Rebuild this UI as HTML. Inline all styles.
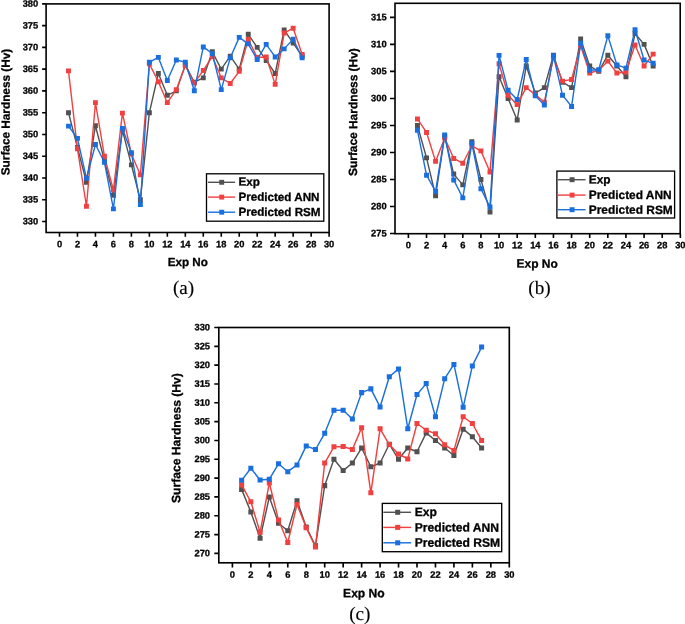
<!DOCTYPE html>
<html lang="en">
<head>
<meta charset="utf-8">
<title>Surface hardness: experimental vs predicted ANN and RSM</title>
<style>
html,body{margin:0;padding:0;background:#fff;}
body{width:685px;height:624px;overflow:hidden;}
svg{display:block;font-family:"Liberation Sans",Arial,Helvetica,sans-serif;fill:#000;text-rendering:geometricPrecision;filter:blur(0.35px);}
svg text{stroke:#000;stroke-width:0.3px;stroke-linejoin:round;}
svg text.cap{stroke-width:0.15px;}
</style>
</head>
<body>
<svg width="685" height="624" viewBox="0 0 685 624">
<rect width="685" height="624" fill="#fff"/>
<g class="chart" id="chart-a">
<path d="M42.1 221.5H46.1M42.1 199.74H46.1M42.1 177.97H46.1M42.1 156.2H46.1M42.1 134.44H46.1M42.1 112.68H46.1M42.1 90.91H46.1M42.1 69.15H46.1M42.1 47.38H46.1M42.1 25.62H46.1M42.1 3.85H46.1M59.5 232.5V236.8M77.47 232.5V236.8M95.45 232.5V236.8M113.42 232.5V236.8M131.4 232.5V236.8M149.37 232.5V236.8M167.34 232.5V236.8M185.32 232.5V236.8M203.29 232.5V236.8M221.27 232.5V236.8M239.24 232.5V236.8M257.21 232.5V236.8M275.19 232.5V236.8M293.16 232.5V236.8M311.14 232.5V236.8M329.11 232.5V236.8" stroke="#000" stroke-width="1.6" fill="none"/>
<polyline points="68.49,112.68 77.47,147.5 86.46,182.32 95.45,125.73 104.44,160.56 113.42,195.38 122.41,130.09 131.4,164.91 140.38,199.74 149.37,112.68 158.36,73.5 167.34,95.26 176.33,90.91 185.32,64.79 194.31,82.2 203.29,77.85 212.28,51.73 221.27,69.15 230.25,56.09 239.24,69.15 248.23,34.32 257.21,47.38 266.2,60.44 275.19,73.5 284.18,29.97 293.16,43.03 302.15,56.09" fill="none" stroke="#515151" stroke-width="1.4" stroke-linejoin="round"/>
<path d="M66.04 110.23h4.9v4.9h-4.9zM75.02 145.05h4.9v4.9h-4.9zM84.01 179.87h4.9v4.9h-4.9zM93 123.28h4.9v4.9h-4.9zM101.98 158.11h4.9v4.9h-4.9zM110.97 192.93h4.9v4.9h-4.9zM119.96 127.64h4.9v4.9h-4.9zM128.95 162.46h4.9v4.9h-4.9zM137.93 197.29h4.9v4.9h-4.9zM146.92 110.23h4.9v4.9h-4.9zM155.91 71.05h4.9v4.9h-4.9zM164.89 92.81h4.9v4.9h-4.9zM173.88 88.46h4.9v4.9h-4.9zM182.87 62.34h4.9v4.9h-4.9zM191.86 79.75h4.9v4.9h-4.9zM200.84 75.4h4.9v4.9h-4.9zM209.83 49.28h4.9v4.9h-4.9zM218.82 66.7h4.9v4.9h-4.9zM227.8 53.64h4.9v4.9h-4.9zM236.79 66.7h4.9v4.9h-4.9zM245.78 31.87h4.9v4.9h-4.9zM254.76 44.93h4.9v4.9h-4.9zM263.75 57.99h4.9v4.9h-4.9zM272.74 71.05h4.9v4.9h-4.9zM281.73 27.52h4.9v4.9h-4.9zM290.71 40.58h4.9v4.9h-4.9zM299.7 53.64h4.9v4.9h-4.9z" fill="#515151"/>
<polyline points="68.49,70.89 77.47,148.8 86.46,206.26 95.45,102.66 104.44,156.2 113.42,190.16 122.41,113.11 131.4,154.03 140.38,174.92 149.37,63.92 158.36,81.77 167.34,102.66 176.33,89.6 185.32,65.66 194.31,83.07 203.29,70.45 212.28,56.52 221.27,77.85 230.25,83.51 239.24,71.32 248.23,39.54 257.21,57.39 266.2,56.96 275.19,84.38 284.18,33.02 293.16,28.23 302.15,54.34" fill="none" stroke="#F14040" stroke-width="1.4" stroke-linejoin="round"/>
<path d="M66.04 68.44h4.9v4.9h-4.9zM75.02 146.35h4.9v4.9h-4.9zM84.01 203.81h4.9v4.9h-4.9zM93 100.21h4.9v4.9h-4.9zM101.98 153.75h4.9v4.9h-4.9zM110.97 187.71h4.9v4.9h-4.9zM119.96 110.66h4.9v4.9h-4.9zM128.95 151.58h4.9v4.9h-4.9zM137.93 172.47h4.9v4.9h-4.9zM146.92 61.47h4.9v4.9h-4.9zM155.91 79.32h4.9v4.9h-4.9zM164.89 100.21h4.9v4.9h-4.9zM173.88 87.15h4.9v4.9h-4.9zM182.87 63.21h4.9v4.9h-4.9zM191.86 80.62h4.9v4.9h-4.9zM200.84 68h4.9v4.9h-4.9zM209.83 54.07h4.9v4.9h-4.9zM218.82 75.4h4.9v4.9h-4.9zM227.8 81.06h4.9v4.9h-4.9zM236.79 68.87h4.9v4.9h-4.9zM245.78 37.09h4.9v4.9h-4.9zM254.76 54.94h4.9v4.9h-4.9zM263.75 54.51h4.9v4.9h-4.9zM272.74 81.93h4.9v4.9h-4.9zM281.73 30.57h4.9v4.9h-4.9zM290.71 25.78h4.9v4.9h-4.9zM299.7 51.89h4.9v4.9h-4.9z" fill="#F14040"/>
<polyline points="68.49,126.17 77.47,138.36 86.46,178.41 95.45,144.45 104.44,162.3 113.42,208.88 122.41,128.35 131.4,152.72 140.38,204.52 149.37,62.18 158.36,57.39 167.34,80.46 176.33,60 185.32,62.18 194.31,90.69 203.29,46.94 212.28,53.47 221.27,89.6 230.25,57.83 239.24,37.37 248.23,43.9 257.21,59.57 266.2,44.33 275.19,56.96 284.18,48.9 293.16,39.11 302.15,57.83" fill="none" stroke="#1A6FDF" stroke-width="1.4" stroke-linejoin="round"/>
<path d="M66.04 123.72h4.9v4.9h-4.9zM75.02 135.91h4.9v4.9h-4.9zM84.01 175.96h4.9v4.9h-4.9zM93 142h4.9v4.9h-4.9zM101.98 159.85h4.9v4.9h-4.9zM110.97 206.43h4.9v4.9h-4.9zM119.96 125.9h4.9v4.9h-4.9zM128.95 150.27h4.9v4.9h-4.9zM137.93 202.07h4.9v4.9h-4.9zM146.92 59.73h4.9v4.9h-4.9zM155.91 54.94h4.9v4.9h-4.9zM164.89 78.01h4.9v4.9h-4.9zM173.88 57.55h4.9v4.9h-4.9zM182.87 59.73h4.9v4.9h-4.9zM191.86 88.24h4.9v4.9h-4.9zM200.84 44.49h4.9v4.9h-4.9zM209.83 51.02h4.9v4.9h-4.9zM218.82 87.15h4.9v4.9h-4.9zM227.8 55.38h4.9v4.9h-4.9zM236.79 34.92h4.9v4.9h-4.9zM245.78 41.45h4.9v4.9h-4.9zM254.76 57.12h4.9v4.9h-4.9zM263.75 41.88h4.9v4.9h-4.9zM272.74 54.51h4.9v4.9h-4.9zM281.73 46.45h4.9v4.9h-4.9zM290.71 36.66h4.9v4.9h-4.9zM299.7 55.38h4.9v4.9h-4.9z" fill="#1A6FDF"/>
<rect x="46.1" y="3.9" width="283" height="228.6" fill="none" stroke="#000" stroke-width="1.6"/>
<g font-size="9.3" font-weight="bold" text-anchor="end">
<text transform="translate(38.2 224.4) rotate(0.2)">330</text>
<text transform="translate(38.2 202.64) rotate(0.2)">335</text>
<text transform="translate(38.2 180.87) rotate(0.2)">340</text>
<text transform="translate(38.2 159.1) rotate(0.2)">345</text>
<text transform="translate(38.2 137.34) rotate(0.2)">350</text>
<text transform="translate(38.2 115.58) rotate(0.2)">355</text>
<text transform="translate(38.2 93.81) rotate(0.2)">360</text>
<text transform="translate(38.2 72.05) rotate(0.2)">365</text>
<text transform="translate(38.2 50.28) rotate(0.2)">370</text>
<text transform="translate(38.2 28.52) rotate(0.2)">375</text>
<text transform="translate(38.2 6.75) rotate(0.2)">380</text>
</g>
<g font-size="9.3" font-weight="bold" text-anchor="middle">
<text transform="translate(59.5 247.3) rotate(0.2)">0</text>
<text transform="translate(77.47 247.3) rotate(0.2)">2</text>
<text transform="translate(95.45 247.3) rotate(0.2)">4</text>
<text transform="translate(113.42 247.3) rotate(0.2)">6</text>
<text transform="translate(131.4 247.3) rotate(0.2)">8</text>
<text transform="translate(149.37 247.3) rotate(0.2)">10</text>
<text transform="translate(167.34 247.3) rotate(0.2)">12</text>
<text transform="translate(185.32 247.3) rotate(0.2)">14</text>
<text transform="translate(203.29 247.3) rotate(0.2)">16</text>
<text transform="translate(221.27 247.3) rotate(0.2)">18</text>
<text transform="translate(239.24 247.3) rotate(0.2)">20</text>
<text transform="translate(257.21 247.3) rotate(0.2)">22</text>
<text transform="translate(275.19 247.3) rotate(0.2)">24</text>
<text transform="translate(293.16 247.3) rotate(0.2)">26</text>
<text transform="translate(311.14 247.3) rotate(0.2)">28</text>
<text transform="translate(329.11 247.3) rotate(0.2)">30</text>
</g>
<text transform="translate(9.7 112) rotate(-89.8)" font-size="11.8" font-weight="bold" text-anchor="middle">Surface Hardness (Hv)</text>
<text transform="translate(187.7 265.95) rotate(0.2)" font-size="11.65" font-weight="bold" text-anchor="middle">Exp No</text>
<text transform="translate(183.5 293.9) rotate(0.2)" font-size="19.1" font-family="'Liberation Serif', 'Times New Roman', serif" text-anchor="middle" class="cap">(a)</text>
<rect x="206.5" y="173.8" width="117.3" height="47.4" fill="#fff" stroke="#000" stroke-width="1.3"/>
<path d="M207.9 182.3H235.1" stroke="#515151" stroke-width="1.4"/>
<rect x="219.25" y="179.85" width="4.9" height="4.9" fill="#515151"/>
<text transform="translate(238.4 185.6) rotate(0.2)" font-size="11.65" font-weight="bold">Exp</text>
<path d="M207.9 197.1H235.1" stroke="#F14040" stroke-width="1.4"/>
<rect x="219.25" y="194.65" width="4.9" height="4.9" fill="#F14040"/>
<text transform="translate(238.4 200.8) rotate(0.2)" font-size="11.65" font-weight="bold">Predicted ANN</text>
<path d="M207.9 212.2H235.1" stroke="#1A6FDF" stroke-width="1.4"/>
<rect x="219.25" y="209.75" width="4.9" height="4.9" fill="#1A6FDF"/>
<text transform="translate(238.4 215.8) rotate(0.2)" font-size="11.65" font-weight="bold">Predicted RSM</text>
</g>
<g class="chart" id="chart-b">
<path d="M390 233.55H395M390 206.53H395M390 179.5H395M390 152.48H395M390 125.45H395M390 98.43H395M390 71.4H395M390 44.38H395M390 17.35H395M408.4 233.7V237.9M426.53 233.7V237.9M444.66 233.7V237.9M462.79 233.7V237.9M480.92 233.7V237.9M499.05 233.7V237.9M517.18 233.7V237.9M535.31 233.7V237.9M553.44 233.7V237.9M571.57 233.7V237.9M589.7 233.7V237.9M607.83 233.7V237.9M625.96 233.7V237.9M644.09 233.7V237.9M662.22 233.7V237.9M680.35 233.7V237.9" stroke="#000" stroke-width="1.61" fill="none"/>
<polyline points="417.46,125.45 426.53,157.88 435.59,195.72 444.66,136.26 453.72,174.09 462.79,184.91 471.85,141.67 480.92,179.5 489.98,211.93 499.05,76.81 508.11,98.43 517.18,120.05 526.25,66 535.31,93.02 544.38,87.62 553.44,55.19 562.5,82.21 571.57,87.62 580.63,38.97 589.7,66 598.76,71.4 607.83,55.19 616.89,66 625.96,76.81 635.02,33.56 644.09,44.38 653.15,66" fill="none" stroke="#515151" stroke-width="1.41" stroke-linejoin="round"/>
<path d="M414.99 122.98h4.94v4.94h-4.94zM424.06 155.41h4.94v4.94h-4.94zM433.12 193.24h4.94v4.94h-4.94zM442.19 133.79h4.94v4.94h-4.94zM451.25 171.62h4.94v4.94h-4.94zM460.32 182.43h4.94v4.94h-4.94zM469.38 139.19h4.94v4.94h-4.94zM478.45 177.03h4.94v4.94h-4.94zM487.51 209.46h4.94v4.94h-4.94zM496.58 74.33h4.94v4.94h-4.94zM505.64 95.95h4.94v4.94h-4.94zM514.71 117.57h4.94v4.94h-4.94zM523.77 63.52h4.94v4.94h-4.94zM532.84 90.55h4.94v4.94h-4.94zM541.9 85.14h4.94v4.94h-4.94zM550.97 52.71h4.94v4.94h-4.94zM560.03 79.74h4.94v4.94h-4.94zM569.1 85.14h4.94v4.94h-4.94zM578.16 36.5h4.94v4.94h-4.94zM587.23 63.52h4.94v4.94h-4.94zM596.29 68.93h4.94v4.94h-4.94zM605.36 52.71h4.94v4.94h-4.94zM614.42 63.52h4.94v4.94h-4.94zM623.49 74.33h4.94v4.94h-4.94zM632.55 31.09h4.94v4.94h-4.94zM641.62 41.9h4.94v4.94h-4.94zM650.68 63.52h4.94v4.94h-4.94z" fill="#515151"/>
<polyline points="417.46,118.96 426.53,132.48 435.59,161.39 444.66,137.88 453.72,158.42 462.79,163.29 471.85,145.99 480.92,150.85 489.98,171.93 499.05,63.83 508.11,95.18 517.18,104.64 526.25,87.62 535.31,94.64 544.38,102.21 553.44,57.35 562.5,81.13 571.57,79.51 580.63,45.73 589.7,73.02 598.76,70.32 607.83,61.13 616.89,73.02 625.96,71.94 635.02,44.92 644.09,66 653.15,54.1" fill="none" stroke="#F14040" stroke-width="1.41" stroke-linejoin="round"/>
<path d="M414.99 116.49h4.94v4.94h-4.94zM424.06 130h4.94v4.94h-4.94zM433.12 158.92h4.94v4.94h-4.94zM442.19 135.41h4.94v4.94h-4.94zM451.25 155.95h4.94v4.94h-4.94zM460.32 160.81h4.94v4.94h-4.94zM469.38 143.52h4.94v4.94h-4.94zM478.45 148.38h4.94v4.94h-4.94zM487.51 169.46h4.94v4.94h-4.94zM496.58 61.36h4.94v4.94h-4.94zM505.64 92.71h4.94v4.94h-4.94zM514.71 102.17h4.94v4.94h-4.94zM523.77 85.14h4.94v4.94h-4.94zM532.84 92.17h4.94v4.94h-4.94zM541.9 99.74h4.94v4.94h-4.94zM550.97 54.87h4.94v4.94h-4.94zM560.03 78.66h4.94v4.94h-4.94zM569.1 77.04h4.94v4.94h-4.94zM578.16 43.25h4.94v4.94h-4.94zM587.23 70.55h4.94v4.94h-4.94zM596.29 67.85h4.94v4.94h-4.94zM605.36 58.66h4.94v4.94h-4.94zM614.42 70.55h4.94v4.94h-4.94zM623.49 69.47h4.94v4.94h-4.94zM632.55 42.44h4.94v4.94h-4.94zM641.62 63.52h4.94v4.94h-4.94zM650.68 51.63h4.94v4.94h-4.94z" fill="#F14040"/>
<polyline points="417.46,130.31 426.53,175.18 435.59,191.39 444.66,134.91 453.72,180.04 462.79,197.88 471.85,143.29 480.92,188.69 489.98,207.07 499.05,55.4 508.11,90.32 517.18,99.51 526.25,59.51 535.31,95.72 544.38,104.91 553.44,55.73 562.5,95.18 571.57,106.53 580.63,43.29 589.7,70.32 598.76,69.78 607.83,35.73 616.89,64.91 625.96,68.16 635.02,29.78 644.09,60.05 653.15,63.29" fill="none" stroke="#1A6FDF" stroke-width="1.41" stroke-linejoin="round"/>
<path d="M414.99 127.84h4.94v4.94h-4.94zM424.06 172.7h4.94v4.94h-4.94zM433.12 188.92h4.94v4.94h-4.94zM442.19 132.44h4.94v4.94h-4.94zM451.25 177.57h4.94v4.94h-4.94zM460.32 195.4h4.94v4.94h-4.94zM469.38 140.81h4.94v4.94h-4.94zM478.45 186.22h4.94v4.94h-4.94zM487.51 204.59h4.94v4.94h-4.94zM496.58 52.93h4.94v4.94h-4.94zM505.64 87.85h4.94v4.94h-4.94zM514.71 97.03h4.94v4.94h-4.94zM523.77 57.04h4.94v4.94h-4.94zM532.84 93.25h4.94v4.94h-4.94zM541.9 102.44h4.94v4.94h-4.94zM550.97 53.25h4.94v4.94h-4.94zM560.03 92.71h4.94v4.94h-4.94zM569.1 104.06h4.94v4.94h-4.94zM578.16 40.82h4.94v4.94h-4.94zM587.23 67.85h4.94v4.94h-4.94zM596.29 67.31h4.94v4.94h-4.94zM605.36 33.25h4.94v4.94h-4.94zM614.42 62.44h4.94v4.94h-4.94zM623.49 65.68h4.94v4.94h-4.94zM632.55 27.31h4.94v4.94h-4.94zM641.62 57.58h4.94v4.94h-4.94zM650.68 60.82h4.94v4.94h-4.94z" fill="#1A6FDF"/>
<rect x="395" y="3.3" width="285.2" height="230.4" fill="none" stroke="#000" stroke-width="1.61"/>
<g font-size="9.3" font-weight="bold" text-anchor="end">
<text transform="translate(386.6 236.4) rotate(0.2)">275</text>
<text transform="translate(386.6 209.38) rotate(0.2)">280</text>
<text transform="translate(386.6 182.35) rotate(0.2)">285</text>
<text transform="translate(386.6 155.33) rotate(0.2)">290</text>
<text transform="translate(386.6 128.3) rotate(0.2)">295</text>
<text transform="translate(386.6 101.28) rotate(0.2)">300</text>
<text transform="translate(386.6 74.25) rotate(0.2)">305</text>
<text transform="translate(386.6 47.23) rotate(0.2)">310</text>
<text transform="translate(386.6 20.2) rotate(0.2)">315</text>
</g>
<g font-size="9.3" font-weight="bold" text-anchor="middle">
<text transform="translate(408.4 248.3) rotate(0.2)">0</text>
<text transform="translate(426.53 248.3) rotate(0.2)">2</text>
<text transform="translate(444.66 248.3) rotate(0.2)">4</text>
<text transform="translate(462.79 248.3) rotate(0.2)">6</text>
<text transform="translate(480.92 248.3) rotate(0.2)">8</text>
<text transform="translate(499.05 248.3) rotate(0.2)">10</text>
<text transform="translate(517.18 248.3) rotate(0.2)">12</text>
<text transform="translate(535.31 248.3) rotate(0.2)">14</text>
<text transform="translate(553.44 248.3) rotate(0.2)">16</text>
<text transform="translate(571.57 248.3) rotate(0.2)">18</text>
<text transform="translate(589.7 248.3) rotate(0.2)">20</text>
<text transform="translate(607.83 248.3) rotate(0.2)">22</text>
<text transform="translate(625.96 248.3) rotate(0.2)">24</text>
<text transform="translate(644.09 248.3) rotate(0.2)">26</text>
<text transform="translate(662.22 248.3) rotate(0.2)">28</text>
<text transform="translate(680.35 248.3) rotate(0.2)">30</text>
</g>
<text transform="translate(357.2 112.1) rotate(-89.8)" font-size="11.91" font-weight="bold" text-anchor="middle">Surface Hardness (Hv)</text>
<text transform="translate(537.2 267.65) rotate(0.2)" font-size="11.97" font-weight="bold" text-anchor="middle">Exp No</text>
<text transform="translate(539.4 294) rotate(0.2)" font-size="19.1" font-family="'Liberation Serif', 'Times New Roman', serif" text-anchor="middle" class="cap">(b)</text>
<rect x="556.9" y="171.1" width="117.7" height="46.9" fill="#fff" stroke="#000" stroke-width="1.31"/>
<path d="M557.9 179.7H585.5" stroke="#515151" stroke-width="1.41"/>
<rect x="569.63" y="177.23" width="4.94" height="4.94" fill="#515151"/>
<text transform="translate(588.8 183.4) rotate(0.2)" font-size="11.9" font-weight="bold">Exp</text>
<path d="M557.9 195.1H585.5" stroke="#F14040" stroke-width="1.41"/>
<rect x="569.63" y="192.63" width="4.94" height="4.94" fill="#F14040"/>
<text transform="translate(588.8 198.8) rotate(0.2)" font-size="11.9" font-weight="bold">Predicted ANN</text>
<path d="M557.9 209.7H585.5" stroke="#1A6FDF" stroke-width="1.41"/>
<rect x="569.63" y="207.23" width="4.94" height="4.94" fill="#1A6FDF"/>
<text transform="translate(588.8 213.7) rotate(0.2)" font-size="11.9" font-weight="bold">Predicted RSM</text>
</g>
<g class="chart" id="chart-c">
<path d="M214.3 553.4H218.8M214.3 534.57H218.8M214.3 515.75H218.8M214.3 496.92H218.8M214.3 478.1H218.8M214.3 459.27H218.8M214.3 440.45H218.8M214.3 421.62H218.8M214.3 402.8H218.8M214.3 383.97H218.8M214.3 365.15H218.8M214.3 346.32H218.8M214.3 327.5H218.8M232.4 562.8V567.6M250.86 562.8V567.6M269.32 562.8V567.6M287.78 562.8V567.6M306.24 562.8V567.6M324.7 562.8V567.6M343.16 562.8V567.6M361.62 562.8V567.6M380.08 562.8V567.6M398.54 562.8V567.6M417 562.8V567.6M435.46 562.8V567.6M453.92 562.8V567.6M472.38 562.8V567.6M490.84 562.8V567.6M509.3 562.8V567.6" stroke="#000" stroke-width="1.64" fill="none"/>
<polyline points="241.63,489.39 250.86,511.98 260.09,538.34 269.32,496.92 278.55,523.28 287.78,530.81 297.01,500.69 306.24,527.04 315.47,545.87 324.7,485.63 333.93,459.27 343.16,470.57 352.39,463.04 361.62,447.98 370.85,466.8 380.08,463.04 389.31,444.21 398.54,459.27 407.77,447.98 417,451.75 426.23,432.92 435.46,440.45 444.69,447.98 453.92,455.51 463.15,429.15 472.38,436.68 481.61,447.98" fill="none" stroke="#515151" stroke-width="1.44" stroke-linejoin="round"/>
<path d="M239.11 486.88h5.03v5.03h-5.03zM248.34 509.47h5.03v5.03h-5.03zM257.57 535.82h5.03v5.03h-5.03zM266.8 494.41h5.03v5.03h-5.03zM276.03 520.76h5.03v5.03h-5.03zM285.26 528.29h5.03v5.03h-5.03zM294.49 498.17h5.03v5.03h-5.03zM303.72 524.53h5.03v5.03h-5.03zM312.95 543.35h5.03v5.03h-5.03zM322.18 483.11h5.03v5.03h-5.03zM331.41 456.76h5.03v5.03h-5.03zM340.64 468.05h5.03v5.03h-5.03zM349.87 460.52h5.03v5.03h-5.03zM359.1 445.46h5.03v5.03h-5.03zM368.33 464.29h5.03v5.03h-5.03zM377.56 460.52h5.03v5.03h-5.03zM386.79 441.7h5.03v5.03h-5.03zM396.02 456.76h5.03v5.03h-5.03zM405.25 445.46h5.03v5.03h-5.03zM414.48 449.23h5.03v5.03h-5.03zM423.71 430.4h5.03v5.03h-5.03zM432.94 437.93h5.03v5.03h-5.03zM442.17 445.46h5.03v5.03h-5.03zM451.4 452.99h5.03v5.03h-5.03zM460.63 426.64h5.03v5.03h-5.03zM469.86 434.17h5.03v5.03h-5.03zM479.09 445.46h5.03v5.03h-5.03z" fill="#515151"/>
<polyline points="241.63,484.88 250.86,501.82 260.09,532.32 269.32,482.99 278.55,520.08 287.78,542.48 297.01,504.45 306.24,527.8 315.47,547 324.7,463.04 333.93,446.85 343.16,446.47 352.39,449.49 361.62,427.65 370.85,492.78 380.08,428.78 389.31,444.59 398.54,454 407.77,458.9 417,423.51 426.23,430.28 435.46,433.67 444.69,444.78 453.92,450.62 463.15,416.73 472.38,423.51 481.61,440.45" fill="none" stroke="#F14040" stroke-width="1.44" stroke-linejoin="round"/>
<path d="M239.11 482.36h5.03v5.03h-5.03zM248.34 499.3h5.03v5.03h-5.03zM257.57 529.8h5.03v5.03h-5.03zM266.8 480.48h5.03v5.03h-5.03zM276.03 517.56h5.03v5.03h-5.03zM285.26 539.97h5.03v5.03h-5.03zM294.49 501.94h5.03v5.03h-5.03zM303.72 525.28h5.03v5.03h-5.03zM312.95 544.48h5.03v5.03h-5.03zM322.18 460.52h5.03v5.03h-5.03zM331.41 444.33h5.03v5.03h-5.03zM340.64 443.96h5.03v5.03h-5.03zM349.87 446.97h5.03v5.03h-5.03zM359.1 425.13h5.03v5.03h-5.03zM368.33 490.27h5.03v5.03h-5.03zM377.56 426.26h5.03v5.03h-5.03zM386.79 442.08h5.03v5.03h-5.03zM396.02 451.49h5.03v5.03h-5.03zM405.25 456.38h5.03v5.03h-5.03zM414.48 420.99h5.03v5.03h-5.03zM423.71 427.77h5.03v5.03h-5.03zM432.94 431.16h5.03v5.03h-5.03zM442.17 442.26h5.03v5.03h-5.03zM451.4 448.1h5.03v5.03h-5.03zM460.63 414.21h5.03v5.03h-5.03zM469.86 420.99h5.03v5.03h-5.03zM479.09 437.93h5.03v5.03h-5.03z" fill="#F14040"/>
<polyline points="241.63,480.36 250.86,468.31 260.09,479.98 269.32,479.23 278.55,463.79 287.78,471.7 297.01,464.92 306.24,445.91 315.47,449.49 324.7,433.3 333.93,410.33 343.16,410.33 352.39,418.99 361.62,392.63 370.85,388.87 380.08,406.94 389.31,376.82 398.54,368.91 407.77,428.78 417,394.52 426.23,383.6 435.46,416.73 444.69,378.7 453.92,364.4 463.15,407.32 472.38,365.9 481.61,347.08" fill="none" stroke="#1A6FDF" stroke-width="1.44" stroke-linejoin="round"/>
<path d="M239.11 477.84h5.03v5.03h-5.03zM248.34 465.79h5.03v5.03h-5.03zM257.57 477.47h5.03v5.03h-5.03zM266.8 476.71h5.03v5.03h-5.03zM276.03 461.28h5.03v5.03h-5.03zM285.26 469.18h5.03v5.03h-5.03zM294.49 462.41h5.03v5.03h-5.03zM303.72 443.39h5.03v5.03h-5.03zM312.95 446.97h5.03v5.03h-5.03zM322.18 430.78h5.03v5.03h-5.03zM331.41 407.81h5.03v5.03h-5.03zM340.64 407.81h5.03v5.03h-5.03zM349.87 416.47h5.03v5.03h-5.03zM359.1 390.12h5.03v5.03h-5.03zM368.33 386.35h5.03v5.03h-5.03zM377.56 404.43h5.03v5.03h-5.03zM386.79 374.31h5.03v5.03h-5.03zM396.02 366.4h5.03v5.03h-5.03zM405.25 426.26h5.03v5.03h-5.03zM414.48 392h5.03v5.03h-5.03zM423.71 381.08h5.03v5.03h-5.03zM432.94 414.21h5.03v5.03h-5.03zM442.17 376.19h5.03v5.03h-5.03zM451.4 361.88h5.03v5.03h-5.03zM460.63 404.8h5.03v5.03h-5.03zM469.86 363.39h5.03v5.03h-5.03zM479.09 344.56h5.03v5.03h-5.03z" fill="#1A6FDF"/>
<rect x="218.8" y="327.5" width="290.5" height="235.3" fill="none" stroke="#000" stroke-width="1.64"/>
<g font-size="9.3" font-weight="bold" text-anchor="end">
<text transform="translate(210 556.3) rotate(0.2)">270</text>
<text transform="translate(210 537.47) rotate(0.2)">275</text>
<text transform="translate(210 518.65) rotate(0.2)">280</text>
<text transform="translate(210 499.82) rotate(0.2)">285</text>
<text transform="translate(210 481) rotate(0.2)">290</text>
<text transform="translate(210 462.17) rotate(0.2)">295</text>
<text transform="translate(210 443.35) rotate(0.2)">300</text>
<text transform="translate(210 424.52) rotate(0.2)">305</text>
<text transform="translate(210 405.7) rotate(0.2)">310</text>
<text transform="translate(210 386.87) rotate(0.2)">315</text>
<text transform="translate(210 368.05) rotate(0.2)">320</text>
<text transform="translate(210 349.22) rotate(0.2)">325</text>
<text transform="translate(210 330.4) rotate(0.2)">330</text>
</g>
<g font-size="9.3" font-weight="bold" text-anchor="middle">
<text transform="translate(232.4 577.85) rotate(0.2)">0</text>
<text transform="translate(250.86 577.85) rotate(0.2)">2</text>
<text transform="translate(269.32 577.85) rotate(0.2)">4</text>
<text transform="translate(287.78 577.85) rotate(0.2)">6</text>
<text transform="translate(306.24 577.85) rotate(0.2)">8</text>
<text transform="translate(324.7 577.85) rotate(0.2)">10</text>
<text transform="translate(343.16 577.85) rotate(0.2)">12</text>
<text transform="translate(361.62 577.85) rotate(0.2)">14</text>
<text transform="translate(380.08 577.85) rotate(0.2)">16</text>
<text transform="translate(398.54 577.85) rotate(0.2)">18</text>
<text transform="translate(417 577.85) rotate(0.2)">20</text>
<text transform="translate(435.46 577.85) rotate(0.2)">22</text>
<text transform="translate(453.92 577.85) rotate(0.2)">24</text>
<text transform="translate(472.38 577.85) rotate(0.2)">26</text>
<text transform="translate(490.84 577.85) rotate(0.2)">28</text>
<text transform="translate(509.3 577.85) rotate(0.2)">30</text>
</g>
<text transform="translate(180.4 438.1) rotate(-89.8)" font-size="12.12" font-weight="bold" text-anchor="middle">Surface Hardness (Hv)</text>
<text transform="translate(363.9 597.3) rotate(0.2)" font-size="12.1" font-weight="bold" text-anchor="middle">Exp No</text>
<text transform="translate(359.8 620) rotate(0.2)" font-size="19.1" font-family="'Liberation Serif', 'Times New Roman', serif" text-anchor="middle" class="cap">(c)</text>
<rect x="382.3" y="503.4" width="119.4" height="48.3" fill="#fff" stroke="#000" stroke-width="1.34"/>
<path d="M383.3 512.3H411.1" stroke="#515151" stroke-width="1.44"/>
<rect x="395.18" y="509.78" width="5.03" height="5.03" fill="#515151"/>
<text transform="translate(414.8 516) rotate(0.2)" font-size="12.1" font-weight="bold">Exp</text>
<path d="M383.3 527.4H411.1" stroke="#F14040" stroke-width="1.44"/>
<rect x="395.18" y="524.88" width="5.03" height="5.03" fill="#F14040"/>
<text transform="translate(414.8 531.4) rotate(0.2)" font-size="12.1" font-weight="bold">Predicted ANN</text>
<path d="M383.3 542.8H411.1" stroke="#1A6FDF" stroke-width="1.44"/>
<rect x="395.18" y="540.28" width="5.03" height="5.03" fill="#1A6FDF"/>
<text transform="translate(414.8 546.6) rotate(0.2)" font-size="12.1" font-weight="bold">Predicted RSM</text>
</g>
</svg>
</body>
</html>
